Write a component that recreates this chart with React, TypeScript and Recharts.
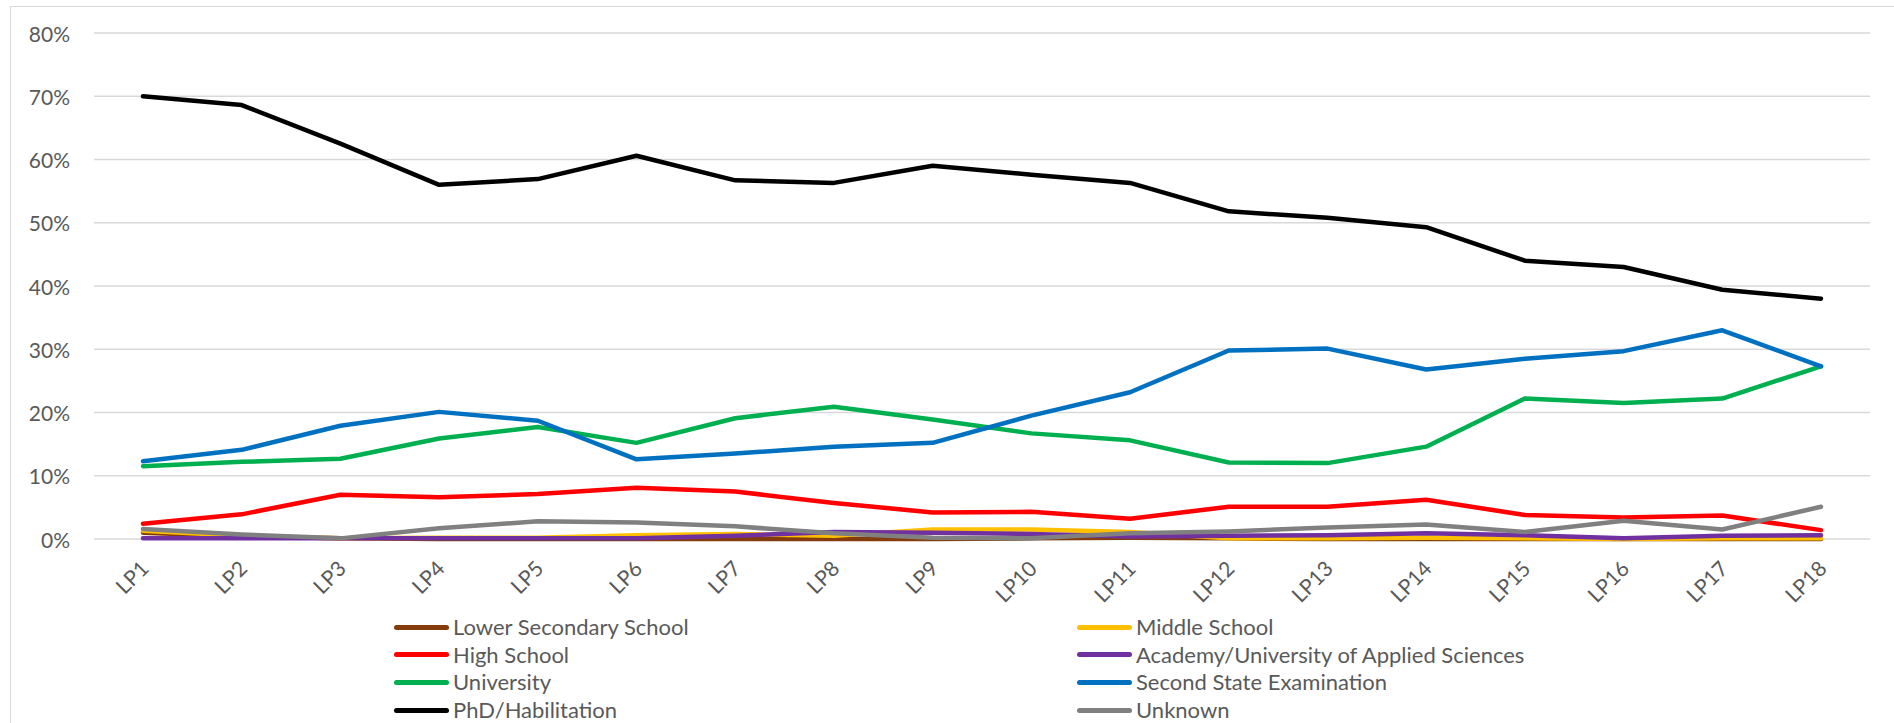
import React from 'react';
import { LineChart, Line, XAxis, YAxis, CartesianGrid } from 'recharts';

const categories = ['LP1', 'LP2', 'LP3', 'LP4', 'LP5', 'LP6', 'LP7', 'LP8', 'LP9', 'LP10', 'LP11', 'LP12', 'LP13', 'LP14', 'LP15', 'LP16', 'LP17', 'LP18'];

// shares in percent
const lowerSecondary = [1.0, 0.4, 0.1, 0.0, 0.0, 0.0, 0.0, 0.0, 0.0, 0.1, 0.2, 0.1, 0.0, 0.0, 0.0, 0.0, 0.0, 0.0];
const middleSchool = [1.3, 0.5, 0.1, 0.2, 0.2, 0.6, 0.8, 0.5, 1.5, 1.5, 1.1, 0.1, 0.1, 0.2, 0.1, 0.0, 0.1, 0.1];
const highSchool = [2.4, 3.9, 7.0, 6.6, 7.1, 8.1, 7.5, 5.7, 4.2, 4.3, 3.2, 5.1, 5.1, 6.2, 3.8, 3.4, 3.7, 1.4];
const academy = [0.1, 0.1, 0.1, 0.1, 0.1, 0.1, 0.5, 1.1, 1.0, 0.8, 0.4, 0.5, 0.6, 0.9, 0.6, 0.1, 0.5, 0.6];
const university = [11.5, 12.2, 12.7, 15.9, 17.7, 15.2, 19.1, 20.9, 18.9, 16.7, 15.6, 12.1, 12.0, 14.6, 22.2, 21.5, 22.2, 27.3];
const secondState = [12.3, 14.1, 17.9, 20.1, 18.7, 12.6, 13.5, 14.6, 15.2, 19.5, 23.2, 29.8, 30.1, 26.8, 28.5, 29.7, 33.0, 27.3];
const phd = [70.0, 68.6, 62.5, 56.0, 56.9, 60.6, 56.7, 56.3, 59.0, 57.6, 56.3, 51.8, 50.8, 49.3, 44.0, 43.0, 39.4, 38.0];
const unknown = [1.6, 0.7, 0.1, 1.7, 2.8, 2.6, 2.0, 0.9, 0.2, 0.1, 0.9, 1.2, 1.8, 2.3, 1.1, 2.9, 1.5, 5.1];

const yTicks = [0, 10, 20, 30, 40, 50, 60, 70, 80];

const series = [
  { key: 'lowerSecondary', name: 'Lower Secondary School', color: '#843C0C', values: lowerSecondary },
  { key: 'middleSchool', name: 'Middle School', color: '#FFC000', values: middleSchool },
  { key: 'highSchool', name: 'High School', color: '#FF0000', values: highSchool },
  { key: 'academy', name: 'Academy/University of Applied Sciences', color: '#7030A0', values: academy },
  { key: 'university', name: 'University', color: '#00B050', values: university },
  { key: 'secondState', name: 'Second State Examination', color: '#0070C0', values: secondState },
  { key: 'phd', name: 'PhD/Habilitation', color: '#000000', values: phd },
  { key: 'unknown', name: 'Unknown', color: '#808080', values: unknown },
];

const data = categories.map((name, i) => {
  const row: Record<string, any> = { name };
  series.forEach((s) => { row[s.key] = s.values[i]; });
  return row;
});

const FONT = 'Lato, "Open Sans", sans-serif';
const TEXT = '#595959';

const YTick = ({ y, payload }: any) => (
  <text x={70} y={y} textAnchor="end" dominantBaseline="central" fill={TEXT} fontSize={21} fontFamily={FONT}>
    {payload.value}%
  </text>
);

const XTick = ({ x, y, payload }: any) => {
  const ax = x + 7;
  const ay = y + 31;
  return (
    <text x={ax} y={ay} textAnchor="end" transform={`rotate(-45, ${ax}, ${ay})`} fill={TEXT} fontSize={21} fontFamily={FONT}>
      {payload.value}
    </text>
  );
};

const legendCols = [394, 1077];
const legendTop = 627;
const legendStep = 27.7;

export default function App() {
  return (
    <div style={{ position: 'absolute', left: 0, top: 0, width: 1894, height: 723, overflow: 'hidden', background: '#fff', fontFamily: FONT }}>
      <div style={{ position: 'absolute', left: 10, top: 6, width: 1950, height: 800, border: '1.5px solid #d9d9d9', boxSizing: 'border-box' }} />
      <div style={{ position: 'absolute', left: 0, top: 0 }}>
        <LineChart width={1894} height={723} data={data} margin={{ top: 33, right: 24, left: 0, bottom: 0 }}>
          <CartesianGrid vertical={false} stroke="#d9d9d9" strokeWidth={1.5} />
          <XAxis
            dataKey="name"
            height={184}
            padding={{ left: 49, right: 49 }}
            axisLine={false}
            tickLine={false}
            tickSize={0}
            tickMargin={0}
            interval={0}
            tick={<XTick />}
          />
          <YAxis
            width={94}
            domain={[0, 80]}
            ticks={yTicks}
            axisLine={false}
            tickLine={false}
            tick={<YTick />}
          />
          {series.map((s) => (
            <Line
              key={s.key}
              type="linear"
              dataKey={s.key}
              name={s.name}
              stroke={s.color}
              strokeWidth={4.5}
              strokeLinecap="round"
              strokeLinejoin="round"
              dot={false}
              activeDot={false}
              isAnimationActive={false}
            />
          ))}
        </LineChart>
      </div>
      {series.map((s, i) => {
        const col = i % 2;
        const row = Math.floor(i / 2);
        const cy = legendTop + row * legendStep;
        return (
          <div key={s.key} style={{ position: 'absolute', left: legendCols[col], top: cy - 14, height: 28, display: 'flex', alignItems: 'center', whiteSpace: 'nowrap' }}>
            <div style={{ width: 55, height: 5, borderRadius: 3, background: s.color, marginRight: 4 }} />
            <span style={{ fontSize: 22, color: TEXT, lineHeight: '28px' }}>{s.name}</span>
          </div>
        );
      })}
    </div>
  );
}
